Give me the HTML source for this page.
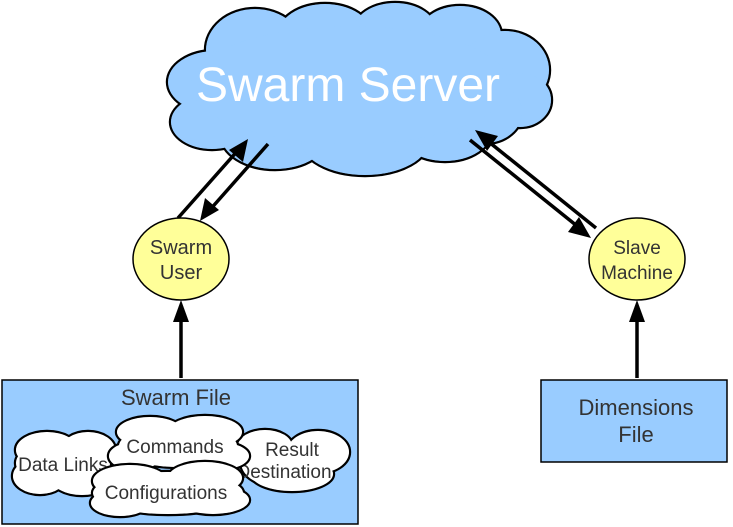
<!DOCTYPE html>
<html><head><meta charset="utf-8"><style>
body{margin:0;background:#fff;}
svg{display:block;font-family:"Liberation Sans",sans-serif;}
</style></head><body>
<svg id="s" width="733" height="527" viewBox="0 0 733 527" xmlns="http://www.w3.org/2000/svg">
<g id="main"></g>
<g stroke="#000" stroke-width="3.5" fill="none">
<line x1="178" y1="218" x2="240" y2="148"/>
<line x1="268" y1="144" x2="208" y2="212"/>
<line x1="596" y1="228" x2="484" y2="138"/>
<line x1="470" y1="140" x2="582" y2="230"/>
<line x1="181" y1="378" x2="181" y2="318"/>
<line x1="637" y1="378" x2="637" y2="318"/>
</g>
<g fill="#000">
<polygon points="248,139 243,162 229,150"/>
<polygon points="200,221 205,198 219,210"/>
<polygon points="475,130 498,136 487,151"/>
<polygon points="591,238 568,232 579,217"/>
<polygon points="181,300 189,322 173,322"/>
<polygon points="637,300 645,322 629,322"/>
</g>
<ellipse cx="181" cy="259" rx="48" ry="41" fill="#ffff99" stroke="#000" stroke-width="1.5"/>
<text x="181" y="254" text-anchor="middle" font-size="20" fill="#333">Swarm</text>
<text x="181" y="279" text-anchor="middle" font-size="20" fill="#333">User</text>
<ellipse cx="637" cy="259" rx="48" ry="41" fill="#ffff99" stroke="#000" stroke-width="1.5"/>
<text x="637" y="254" text-anchor="middle" font-size="19" fill="#333">Slave</text>
<text x="637" y="279" text-anchor="middle" font-size="19" fill="#333">Machine</text>
<rect x="2" y="380" width="356" height="144" fill="#99ccff" stroke="#000" stroke-width="1.5"/>
<text x="176" y="405" text-anchor="middle" font-size="22" fill="#333">Swarm File</text>
<rect x="541" y="380" width="186" height="82" fill="#99ccff" stroke="#000" stroke-width="1.5"/>
<text x="636" y="415" text-anchor="middle" font-size="22" fill="#333">Dimensions</text>
<text x="636" y="442" text-anchor="middle" font-size="22" fill="#333">File</text>
<g id="small"></g>
<text x="348" y="101" text-anchor="middle" font-size="48" fill="#fff">Swarm Server</text>
</svg>
<script>
var NS="http://www.w3.org/2000/svg";
function cloud(parent,circles,fill){
  var g=document.createElementNS(NS,"g");
  circles.forEach(function(c){var e=document.createElementNS(NS,"ellipse");
    e.setAttribute("cx",c[0]);e.setAttribute("cy",c[1]);e.setAttribute("rx",c[2]);e.setAttribute("ry",c[3]||c[2]);
    e.setAttribute("fill",fill);e.setAttribute("stroke","#000");e.setAttribute("stroke-width","2.4");g.appendChild(e);});
  circles.forEach(function(c){var e=document.createElementNS(NS,"ellipse");
    e.setAttribute("cx",c[0]);e.setAttribute("cy",c[1]);e.setAttribute("rx",c[2]-1);e.setAttribute("ry",(c[3]||c[2])-1);
    e.setAttribute("fill",fill);g.appendChild(e);});
  parent.appendChild(g);return g;
}
function txt(parent,x,y,s,t){var e=document.createElementNS(NS,"text");e.setAttribute("x",x);e.setAttribute("y",y);
  e.setAttribute("text-anchor","middle");e.setAttribute("font-size",s);e.setAttribute("fill","#333");e.textContent=t;parent.appendChild(e);}
var m=document.getElementById("main");
cloud(m,[[255,50,50,42],[325,35,48,32],[395,30,42,28],[460,35,42,30],[505,70,45,40],[520,100,32,28],
 [215,82,48,32],[212,122,42,28],[275,135,55,35],[365,140,65,36],[445,130,48,32],[485,112,38,32],[350,85,160,60]],"#99ccff");
var sm=document.getElementById("small");
cloud(sm,[[265,446,28,17],[318,452,32,22],[292,474,42,18],[272,462,32,24]],"#fff");
txt(sm,292,456,19,"Result");txt(sm,284,478,19,"Destination");
cloud(sm,[[47,450,32,19],[88,450,28,19],[40,476,28,19],[82,478,32,18],[63,463,48,24]],"#fff");
txt(sm,63,471,19,"Data Links");
cloud(sm,[[150,432,34,16],[205,432,38,17],[135,456,27,15],[218,456,32,15],[178,446,60,22]],"#fff");
txt(sm,175,453,19,"Commands");
cloud(sm,[[130,481,38,17],[205,478,38,17],[120,503,30,14],[213,500,37,15],[168,493,76,22]],"#fff");
txt(sm,166,499,19,"Configurations");
</script>
</body></html>
